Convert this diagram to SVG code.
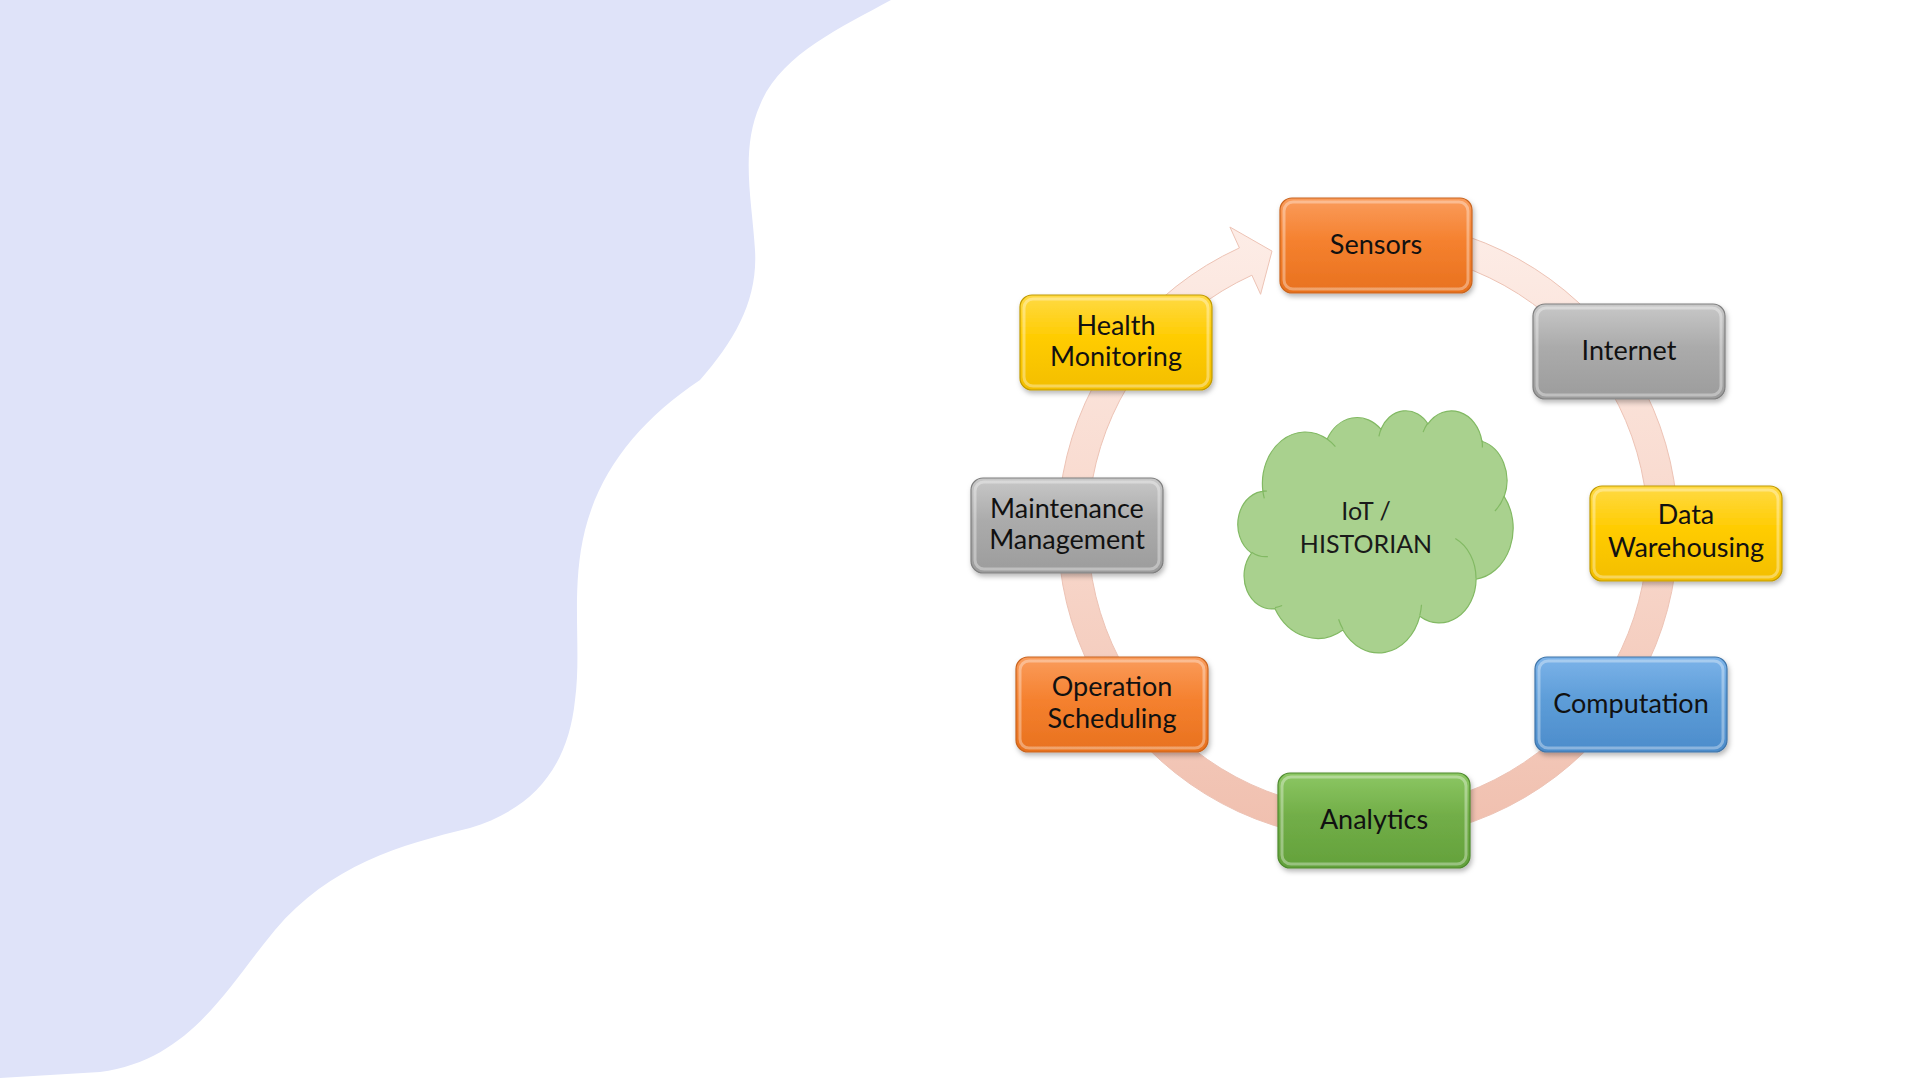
<svg xmlns="http://www.w3.org/2000/svg" width="1920" height="1080" viewBox="0 0 1920 1080">
<defs>
<linearGradient id="gOrange" x1="0" y1="0" x2="0" y2="1"><stop offset="0" stop-color="#FA9C5C"/><stop offset="0.45" stop-color="#F5812F"/><stop offset="1" stop-color="#E8711E"/></linearGradient>
<linearGradient id="gGray" x1="0" y1="0" x2="0" y2="1"><stop offset="0" stop-color="#C8C8C8"/><stop offset="0.45" stop-color="#ABABAB"/><stop offset="1" stop-color="#9C9C9C"/></linearGradient>
<linearGradient id="gYellow" x1="0" y1="0" x2="0" y2="1"><stop offset="0" stop-color="#FFDA45"/><stop offset="0.45" stop-color="#FFCC00"/><stop offset="1" stop-color="#F3BE00"/></linearGradient>
<linearGradient id="gBlue" x1="0" y1="0" x2="0" y2="1"><stop offset="0" stop-color="#7CB3E9"/><stop offset="0.45" stop-color="#5D9DD8"/><stop offset="1" stop-color="#4C8CCB"/></linearGradient>
<linearGradient id="gGreen" x1="0" y1="0" x2="0" y2="1"><stop offset="0" stop-color="#8CC763"/><stop offset="0.45" stop-color="#72AE48"/><stop offset="1" stop-color="#63A13B"/></linearGradient>
<linearGradient id="gRing" x1="0" y1="0" x2="0" y2="1"><stop offset="0" stop-color="#FDEDE7"/><stop offset="0.5" stop-color="#F8D8CC"/><stop offset="1" stop-color="#F0BFAE"/></linearGradient>
<filter id="sh" x="-10%" y="-10%" width="125%" height="130%"><feDropShadow dx="1.5" dy="3" stdDeviation="2.5" flood-color="#000" flood-opacity="0.28"/></filter>
<style>
.box{stroke-width:1.2;filter:url(#sh)}
.orange{fill:url(#gOrange);stroke:#C8641F}
.gray{fill:url(#gGray);stroke:#7F7F7F}
.yellow{fill:url(#gYellow);stroke:#C09A00}
.blue{fill:url(#gBlue);stroke:#3F74A8}
.green{fill:url(#gGreen);stroke:#4E8A2E}
.hl{fill:none;stroke:#FFFFFF;stroke-opacity:0.35;stroke-width:3}
.lbl{font-family:Lato,"Liberation Sans",sans-serif;font-size:27px;fill:#111;text-anchor:middle}
.cl{font-family:Lato,"Liberation Sans",sans-serif;font-size:25px;fill:#1a1a1a;text-anchor:middle}
</style>
</defs>
<rect width="1920" height="1080" fill="#FFFFFF"/>
<path id="blob" d="M0,0 H891 C840,28 780,55 760,105 C740,150 752,200 755,250 C758,300 735,340 700,380 C640,420 600,470 585,530 C570,590 582,650 575,700 C568,770 530,810 470,828 C400,845 330,865 275,930 C225,990 190,1060 100,1072 L0,1078 Z" fill="#DFE3F9"/>
<g id="connectors">
<path d="M1395.0,221.2 A310,310 0 1 1 1239.4,247.9 L1229.9,227.0 L1272.0,251.1 L1260.6,294.3 L1251.9,275.2 A280,280 0 1 0 1392.4,251.1 Z" fill="url(#gRing)" stroke="#EDC3B5" stroke-width="1"/>
</g>
<g id="cloud">
<path d="M1262.8,490.5 A43,51.5 0 0 1 1327.2,439.1 A33.9,40.7 0 0 1 1380.9,429.2 A27.8,33.3 0 0 1 1427.9,423.9 A30.9,36.9 0 0 1 1481.9,441.2 A33.9,40.7 0 0 1 1504.2,496.6 A43.1,51.6 0 0 1 1476.1,579.2 A36.8,44.1 0 0 1 1419.8,616.2 A43,51.6 0 0 1 1342.9,630 A49.1,59.1 0 0 1 1275,608.7 A27.8,33.2 0 0 1 1251.5,553.1 A27.7,33.3 0 0 1 1266.8,491.1 Z" fill="#A9D18E" stroke="#82B963" stroke-width="1.2"/>
<path d="M1267.9,556.6 A27.7,33.3 0 0 1 1251.7,552.2 M1282.1,605.5 A27.8,33.2 0 0 1 1275,607.6 M1342.9,629 A43,51.6 0 0 1 1338.6,619.2 M1421.5,604.7 A43,51.6 0 0 1 1419.8,615.4 M1455.3,538.6 A36.8,44.1 0 0 1 1476,578.6 M1504.1,496 A33.9,40.7 0 0 1 1494.9,511 M1482,440.4 A30.9,36.9 0 0 1 1482.4,447.5 M1423.1,432.1 A30.9,36.9 0 0 1 1427.8,423.1 M1378.9,436.4 A27.8,33.3 0 0 1 1381.2,428.7 M1327.1,439.1 A43,51.5 0 0 1 1335.4,446.7 M1264.3,498.4 A43,51.5 0 0 1 1262.8,490.5" fill="none" stroke="#82B963" stroke-width="1.2"/>
<text class="cl" x="1366" y="520">IoT /</text>
<text class="cl" x="1366" y="553">HISTORIAN</text>
</g>
<g id="sensors">
<rect class="box orange" x="1280" y="198" width="192" height="95" rx="12"/>
<rect class="hl" x="1284" y="202" width="184" height="87" rx="9"/>
<text class="lbl" x="1376" y="254">Sensors</text>
</g>
<g id="internet">
<rect class="box gray" x="1533" y="304" width="192" height="95" rx="12"/>
<rect class="hl" x="1537" y="308" width="184" height="87" rx="9"/>
<text class="lbl" x="1629" y="360">Internet</text>
</g>
<g id="data-warehousing">
<rect class="box yellow" x="1590" y="486" width="192" height="95" rx="12"/>
<rect class="hl" x="1594" y="490" width="184" height="87" rx="9"/>
<text class="lbl" x="1686" y="524">Data</text>
<text class="lbl" x="1686" y="557">Warehousing</text>
</g>
<g id="computation">
<rect class="box blue" x="1535" y="657" width="192" height="95" rx="12"/>
<rect class="hl" x="1539" y="661" width="184" height="87" rx="9"/>
<text class="lbl" x="1631" y="713">Computation</text>
</g>
<g id="analytics">
<rect class="box green" x="1278" y="773" width="192" height="95" rx="12"/>
<rect class="hl" x="1282" y="777" width="184" height="87" rx="9"/>
<text class="lbl" x="1374" y="829">Analytics</text>
</g>
<g id="operation-scheduling">
<rect class="box orange" x="1016" y="657" width="192" height="95" rx="12"/>
<rect class="hl" x="1020" y="661" width="184" height="87" rx="9"/>
<text class="lbl" x="1112" y="696">Operation</text>
<text class="lbl" x="1112" y="728">Scheduling</text>
</g>
<g id="maintenance-management">
<rect class="box gray" x="971" y="478" width="192" height="95" rx="12"/>
<rect class="hl" x="975" y="482" width="184" height="87" rx="9"/>
<text class="lbl" x="1067" y="518">Maintenance</text>
<text class="lbl" x="1067" y="549">Management</text>
</g>
<g id="health-monitoring">
<rect class="box yellow" x="1020" y="295" width="192" height="95" rx="12"/>
<rect class="hl" x="1024" y="299" width="184" height="87" rx="9"/>
<text class="lbl" x="1116" y="335">Health</text>
<text class="lbl" x="1116" y="366">Monitoring</text>
</g>
</svg>
